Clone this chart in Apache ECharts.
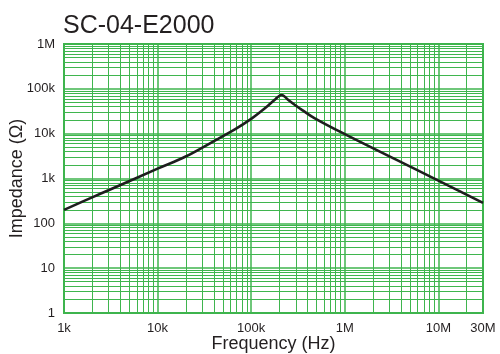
<!DOCTYPE html>
<html>
<head>
<meta charset="utf-8">
<script src="https://cdn.jsdelivr.net/npm/echarts@6/dist/echarts.min.js"></script>
<style>
  html, body { margin: 0; padding: 0; background: #fff; }
  #chart { width: 500px; height: 354px; }
</style>
</head>
<body>
<div id="chart"></div>
<script>
// Impedance curve of the SC-04-E2000 (frequency in Hz, impedance in ohms)
const frequency = [1000, 2000, 3160, 10000, 19950, 36300, 67600, 100000,
  125900, 152000, 182000, 196000, 211000, 227000, 244000, 293800, 354800, 478600,
  1000000, 5010000, 30000000];
const impedance = [200, 380, 575, 1660, 3090, 6100, 12600, 21400,
  30900, 42700, 58900, 67600, 73000, 67600, 58900, 43700, 33100, 22000,
  9770, 1840, 285];

// Axis ranges and decade labels
const xRange = [1000, 30000000];
const yRange = [1, 1000000];
const decadeLabels = { 1: '1', 10: '10', 100: '100', 1000: '1k', 10000: '10k', 100000: '100k',
  1000000: '1M', 10000000: '10M', 30000000: '30M' };

// Minor grid positions: 2..9 times each decade
const multiples = [2, 3, 4, 5, 6, 7, 8, 9];
const xDecades = [1000, 10000, 100000, 1000000, 10000000];
const yDecades = [1, 10, 100, 1000, 10000, 100000];

const gridGreen = '#3fb54e';
const fontFamily = '"Liberation Sans", Arial, Helvetica, sans-serif';
const minorStyle = { color: gridGreen, width: 1, type: 'solid', opacity: 1 };

const minorLines = [];
xDecades.forEach(d => multiples.forEach(m => {
  const v = d * m;
  if (v < xRange[1]) minorLines.push({ xAxis: v, lineStyle: minorStyle });
}));
yDecades.forEach(d => multiples.forEach(m => minorLines.push({ yAxis: d * m, lineStyle: minorStyle })));

function fmt(v) {
  const r = Math.round(v);
  return decadeLabels[r] !== undefined ? decadeLabels[r] : '';
}

const chart = echarts.init(document.getElementById('chart'), null, { renderer: 'canvas' });
chart.setOption({
  animation: false,
  backgroundColor: '#ffffff',
  title: {
    text: 'SC-04-E2000',
    left: 58,
    top: 9,
    textStyle: { fontFamily, fontSize: 25, fontWeight: 'normal', color: '#231f20' }
  },
  grid: {
    left: 64, right: 17, top: 44, bottom: 41,
    containLabel: false, outerBoundsMode: 'none',
    show: true, borderColor: gridGreen, borderWidth: 2, backgroundColor: 'transparent'
  },
  xAxis: {
    type: 'log', logBase: 10, min: xRange[0], max: xRange[1],
    name: 'Frequency (Hz)', nameLocation: 'middle', nameGap: 22, nameMoveOverlap: false,
    nameTextStyle: { fontFamily, fontSize: 18, color: '#231f20' },
    axisLine: { show: false },
    axisTick: { show: false },
    axisLabel: { formatter: fmt, fontFamily, fontSize: 13, color: '#231f20', margin: 9,
      showMinLabel: true, showMaxLabel: true, hideOverlap: false },
    splitLine: { show: true, lineStyle: { color: gridGreen, width: 1.5 } }
  },
  yAxis: {
    type: 'log', logBase: 10, min: yRange[0], max: yRange[1],
    name: 'Impedance (Ω)', nameLocation: 'middle', nameGap: 38, nameMoveOverlap: false,
    nameTextStyle: { fontFamily, fontSize: 18, color: '#231f20' },
    axisLine: { show: false },
    axisTick: { show: false },
    axisLabel: { formatter: fmt, fontFamily, fontSize: 13, color: '#231f20', margin: 9 },
    splitLine: { show: true, lineStyle: { color: gridGreen, width: 1.5 } }
  },
  series: [
    {
      // minor grid
      type: 'line', data: [], z: 1, silent: true, color: gridGreen,
      markLine: {
        silent: true, symbol: ['none', 'none'], animation: false,
        label: { show: false },
        lineStyle: minorStyle,
        emphasis: { disabled: true },
        data: minorLines
      }
    },
    {
      type: 'line', z: 5,
      data: frequency.map((f, i) => [f, impedance[i]]),
      smooth: 0.4, showSymbol: false, symbol: 'none',
      lineStyle: { color: '#1e1e1e', width: 2.6 }
    }
  ]
});
</script>
</body>
</html>
